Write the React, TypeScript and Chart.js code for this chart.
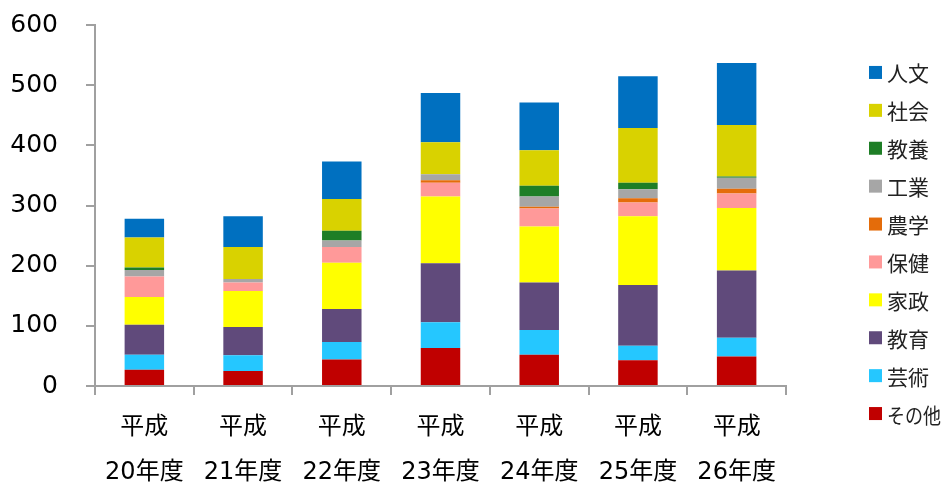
import React, { useEffect, useRef } from 'react';
import { Chart, registerables } from 'chart.js';

Chart.register(...registerables);

const years: string[][] = [
  ['平成', '20年度'],
  ['平成', '21年度'],
  ['平成', '22年度'],
  ['平成', '23年度'],
  ['平成', '24年度'],
  ['平成', '25年度'],
  ['平成', '26年度'],
];

const fieldNames = ['その他', '芸術', '教育', '家政', '保健', '農学', '工業', '教養', '社会', '人文'];
const fieldColors = ['#C00000', '#25C7FF', '#604A7B', '#FFFF00', '#FF9999', '#E46C0A', '#A6A6A6', '#1E7E26', '#D9D200', '#0070C0'];

const sonota = [27, 25, 44, 63, 52, 43, 49];
const geijutsu = [25, 26, 29, 43, 41, 24, 31];
const kyoiku = [50, 47, 55, 98, 79, 101, 112];
const kasei = [46, 60, 77, 111, 93, 114, 104];
const hoken = [34, 14, 26, 23, 30, 23, 24];
const nogaku = [0, 0, 0, 4, 3, 7, 8];
const kogyo = [11, 6, 11, 10, 17, 15, 18];
const kyoyo = [4, 0, 16, 0, 18, 11, 2];
const shakai = [50, 53, 53, 53, 59, 91, 86];
const jinbun = [31, 51, 62, 82, 79, 86, 103];

const seriesValues = [sonota, geijutsu, kyoiku, kasei, hoken, nogaku, kogyo, kyoyo, shakai, jinbun];

const yMin = 0;
const yMax = 600;
const yStep = 100;

const sideLegend = {
  id: 'sideLegend',
  afterDraw(chart: any) {
    const { ctx, chartArea, height } = chart;
    const ds = chart.data.datasets;
    const n = ds.length;
    const spacing = 37.9;
    const x = chartArea.right + 83;
    const y0 = height / 2 - ((n - 1) * spacing) / 2;
    ctx.save();
    ctx.font = '21px "Noto Sans CJK JP", "DejaVu Sans", sans-serif';
    ctx.textBaseline = 'middle';
    ctx.textAlign = 'left';
    for (let i = 0; i < n; i++) {
      const d = ds[n - 1 - i];
      const y = y0 + i * spacing;
      ctx.fillStyle = d.backgroundColor;
      ctx.fillRect(x, y - 6.5, 13, 13);
      ctx.fillStyle = '#222';
      ctx.fillText(d.label, x + 18, y + 1, 54);
    }
    ctx.restore();
  },
};

export default function App() {
  const ref = useRef<HTMLCanvasElement | null>(null);

  useEffect(() => {
    if (!ref.current) return;
    const axisColor = '#A0A0A0';
    const chart = new Chart(ref.current, {
      type: 'bar',
      data: {
        labels: years,
        datasets: fieldNames.map((name, i) => ({
          label: name,
          data: seriesValues[i],
          backgroundColor: fieldColors[i],
          borderWidth: 0,
          categoryPercentage: 1,
          barPercentage: 0.4,
        })),
      },
      options: {
        animation: false,
        responsive: true,
        maintainAspectRatio: false,
        layout: { padding: { top: 25, right: 157, left: 0, bottom: 0 } },
        plugins: {
          legend: { display: false },
          tooltip: { enabled: false },
        },
        scales: {
          x: {
            stacked: true,
            afterFit: (scale: any) => {
              scale.height = 100;
            },
            grid: {
              drawOnChartArea: false,
              drawTicks: true,
              tickLength: 9,
              color: axisColor,
              lineWidth: 2,
              offset: true,
            },
            border: { display: true, color: axisColor, width: 2 },
            ticks: {
              color: '#000',
              font: { family: '"DejaVu Sans", "Noto Sans CJK JP", sans-serif', size: 24, lineHeight: 1.875 },
              padding: 10,
              maxRotation: 0,
              autoSkip: false,
            },
          },
          y: {
            stacked: true,
            min: yMin,
            max: yMax,
            afterFit: (scale: any) => {
              scale.width = 95;
              scale.paddingTop = 0;
              scale.paddingBottom = 0;
            },
            grid: {
              drawOnChartArea: false,
              drawTicks: true,
              tickLength: 9,
              color: axisColor,
              lineWidth: 2,
            },
            border: { display: true, color: axisColor, width: 2 },
            ticks: {
              stepSize: yStep,
              color: '#000',
              font: { family: '"DejaVu Sans", sans-serif', size: 25 },
              padding: 28,
            },
          },
        },
      },
      plugins: [sideLegend],
    });
    return () => chart.destroy();
  }, []);

  return (
    <div style={{ position: 'fixed', left: 0, top: 0, width: 943, height: 486, background: '#fff' }}>
      <canvas ref={ref} />
    </div>
  );
}
